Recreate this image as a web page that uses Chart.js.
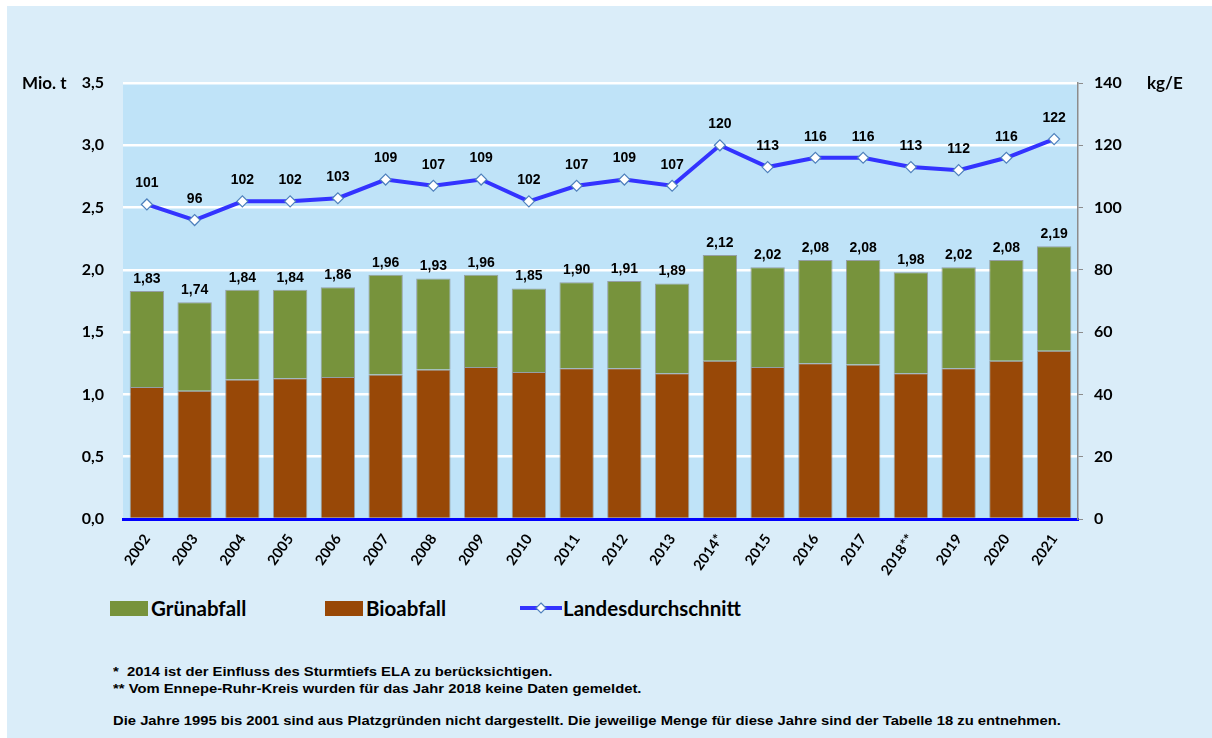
<!DOCTYPE html>
<html>
<head>
<meta charset="utf-8">
<script src="https://cdn.jsdelivr.net/npm/chart.js@4.4.0/dist/chart.umd.min.js"></script>
<style>
    html, body { margin: 0; padding: 0; background: #fff; }
    body { width: 1212px; height: 738px; position: relative; overflow: hidden; }
    #panel { position: absolute; left: 7px; top: 6px; right: 0; bottom: 0; background: #daedf9; }
    #wrap { position: absolute; left: 0; top: 0; width: 1212px; height: 580px; }
    .unit { position: absolute; font: bold 17px Lato, sans-serif; color: #000; }
    .legend { position: absolute; top: 596px; font: bold 20.5px Lato, sans-serif; color: #000; display: flex; align-items: center; }
    .sw { display: inline-block; width: 38px; height: 15px; margin-right: 3px; }
    .note { position: absolute; left: 113px; font: bold 14.8px "Liberation Sans", Arial, sans-serif; color: #000; white-space: nowrap;
        transform: scaleY(0.88); transform-origin: left center; }
</style>
</head>
<body>
<div id="panel"></div>
<div id="wrap"><canvas id="chart" width="1212" height="580"></canvas></div>

<div class="unit" style="left:22px; top:72px;">Mio. t</div>
<div class="unit" style="left:1147px; top:72px;">kg/E</div>

<div class="legend" style="left:110px;"><span class="sw" style="background:#77933c"></span>Grünabfall</div>
<div class="legend" style="left:325px;"><span class="sw" style="background:#984807"></span>Bioabfall</div>
<div class="legend" style="left:520px;">
    <svg width="42" height="16" style="margin-right:1px"><line x1="0" y1="8" x2="42" y2="8" stroke="#3333ff" stroke-width="4"/><polygon points="21,3 26,8 21,13 16,8" fill="#fff" stroke="#4f81bd" stroke-width="1.2"/></svg>Landesdurchschnitt
</div>

<div class="note" style="top:664px;">*&nbsp; 2014 ist der Einfluss des Sturmtiefs ELA zu berücksichtigen.</div>
<div class="note" style="top:681px;">** Vom Ennepe-Ruhr-Kreis wurden für das Jahr 2018 keine Daten gemeldet.</div>
<div class="note" style="top:713px;">Die Jahre 1995 bis 2001 sind aus Platzgründen nicht dargestellt. Die jeweilige Menge für diese Jahre sind der Tabelle 18 zu entnehmen.</div>

<script>
const years = ["2002", "2003", "2004", "2005", "2006", "2007", "2008", "2009", "2010", "2011",
    "2012", "2013", "2014*", "2015", "2016", "2017", "2018**", "2019", "2020", "2021"];
// Mio. t
const bioabfall = [1.06, 1.03, 1.12, 1.13, 1.14, 1.16, 1.20, 1.22, 1.18, 1.21,
    1.21, 1.17, 1.27, 1.22, 1.25, 1.24, 1.17, 1.21, 1.27, 1.35];
const gruenabfall = [0.77, 0.71, 0.72, 0.71, 0.72, 0.80, 0.73, 0.74, 0.67, 0.69,
    0.70, 0.72, 0.85, 0.80, 0.83, 0.84, 0.81, 0.81, 0.81, 0.84];
const gesamt = [1.83, 1.74, 1.84, 1.84, 1.86, 1.96, 1.93, 1.96, 1.85, 1.90,
    1.91, 1.89, 2.12, 2.02, 2.08, 2.08, 1.98, 2.02, 2.08, 2.19];
// kg/E
const landesdurchschnitt = [101, 96, 102, 102, 103, 109, 107, 109, 102, 107,
    109, 107, 120, 113, 116, 116, 113, 112, 116, 122];

const leftTicks = [0, 0.5, 1, 1.5, 2, 2.5, 3, 3.5];

// Hintergrund der Zeichenfläche
const plotBg = {
    id: "plotBg",
    beforeDraw(chart) {
        const { ctx, chartArea: a } = chart;
        ctx.save();
        ctx.fillStyle = "#bfe3f8";
        ctx.fillRect(a.left, a.top, a.right - a.left, a.bottom - a.top);
        ctx.restore();
    }
};

// Werte über Säulen und Linienpunkten
const valueLabels = {
    id: "valueLabels",
    afterDatasetsDraw(chart) {
        const ctx = chart.ctx;
        ctx.save();
        ctx.font = "bold 14px 'Liberation Sans', Arial, sans-serif";
        ctx.fillStyle = "#000";
        ctx.textAlign = "center";
        ctx.textBaseline = "middle";
        const top = chart.getDatasetMeta(1).data;
        top.forEach((bar, i) => {
            ctx.fillText(gesamt[i].toFixed(2).replace(".", ","), bar.x, bar.y - 12);
        });
        const pts = chart.getDatasetMeta(2).data;
        pts.forEach((p, i) => {
            ctx.fillText(String(landesdurchschnitt[i]), p.x, p.y - 21);
        });
        ctx.restore();
    }
};

new Chart(document.getElementById("chart"), {
    data: {
        labels: years,
        datasets: [
            {
                type: "bar", label: "Bioabfall", data: bioabfall, yAxisID: "y",
                backgroundColor: "#984807", borderColor: "rgba(130,130,130,0.7)", borderWidth: 1,
                categoryPercentage: 0.72, barPercentage: 1, order: 2
            },
            {
                type: "bar", label: "Grünabfall", data: gruenabfall, yAxisID: "y",
                backgroundColor: "#77933c", borderColor: "rgba(130,130,130,0.7)", borderWidth: 1,
                categoryPercentage: 0.72, barPercentage: 1, order: 2
            },
            {
                type: "line", label: "Landesdurchschnitt", data: landesdurchschnitt, yAxisID: "y1",
                borderColor: "#3333ff", borderWidth: 4, tension: 0,
                pointStyle: "rectRot", pointRadius: 5.5, pointBackgroundColor: "#fff",
                pointBorderColor: "#4f81bd", pointBorderWidth: 1.2, order: 1
            }
        ]
    },
    options: {
        responsive: false,
        animation: false,
        layout: { padding: { top: 83, bottom: 0, left: 0, right: 0 } },
        plugins: { legend: { display: false }, tooltip: { enabled: false } },
        scales: {
            x: {
                stacked: true,
                grid: { display: false },
                border: { color: "#0000ff", width: 3 },
                ticks: {
                    color: "#000", font: { family: "Lato", size: 14.5, weight: "bold" },
                    minRotation: 55, maxRotation: 55, padding: 4, autoSkip: false
                },
                afterFit(s) { s.height = 61; }
            },
            y: {
                stacked: true, position: "left", min: 0, max: 3.5,
                afterBuildTicks(s) { s.ticks = leftTicks.map(v => ({ value: v })); },
                grid: { color: "#ffffff", lineWidth: 2.5, drawTicks: false },
                border: { display: false },
                ticks: {
                    color: "#000", font: { family: "Lato", size: 16, weight: "bold" }, padding: 19,
                    callback: v => v.toFixed(1).replace(".", ",")
                },
                afterFit(s) { s.width = 123; }
            },
            y1: {
                position: "right", min: 0, max: 140,
                ticks: { stepSize: 20, color: "#000", font: { family: "Lato", size: 16, weight: "bold" }, padding: 11 },
                grid: { drawOnChartArea: false, color: "#8c8c8c", tickLength: 5 },
                border: { color: "#8c8c8c", width: 1.5 },
                afterFit(s) { s.width = 134; }
            }
        }
    },
    plugins: [plotBg, valueLabels]
});
</script>
</body>
</html>
